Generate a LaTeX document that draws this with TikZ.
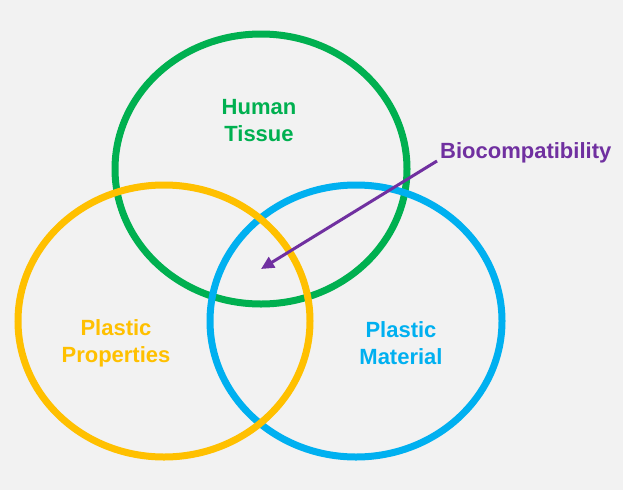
\documentclass[tikz,border=0pt]{standalone}
\usepackage{fontspec}
\setmainfont{Liberation Sans}
\usepackage{xcolor}
\usepackage{tikz}
\usetikzlibrary{arrows.meta, positioning}

\definecolor{tissuegreen}{HTML}{00B050}
\definecolor{propyellow}{HTML}{FFC000}
\definecolor{matblue}{HTML}{00B0F0}
\definecolor{biopurple}{HTML}{7030A0}
\definecolor{bggray}{HTML}{F2F2F2}

\tikzset{
  ring/.style={line width=7pt},
  setlabel/.style={font=\fontsize{22}{27}\selectfont\bfseries, align=center, inner sep=0pt},
  pointer/.style={line width=3pt, -{Triangle[length=13pt,width=12pt]}}
}

\begin{document}
\begin{tikzpicture}[x=1pt,y=-1pt]
  \fill[bggray] (0,0) rectangle (623,490);
  \useasboundingbox (0,0) rectangle (623,490);

  % the three sets
  \draw[ring,tissuegreen] (261,169) ellipse [x radius=146, y radius=135];
  \draw[ring,matblue] (356,321) ellipse [x radius=146, y radius=136];
  \draw[ring,propyellow] (164,321) ellipse [x radius=146, y radius=136];

  \node[setlabel,text=tissuegreen] (tissue) at (259,121) {Human\\Tissue};
  \node[setlabel,text=propyellow] (props) at (116,343) {Plastic\\Properties};
  \node[setlabel,text=matblue] (material) at (401,343) {Plastic\\Material};

  % overlap label
  \node[setlabel,text=biopurple,anchor=west] (bio) at (440,153) {Biocompatibility};
  \coordinate (centre) at (261,269);
  \draw[pointer,biopurple] ([xshift=-3pt,yshift=-8pt]bio.west) -- (centre);
\end{tikzpicture}
\end{document}
